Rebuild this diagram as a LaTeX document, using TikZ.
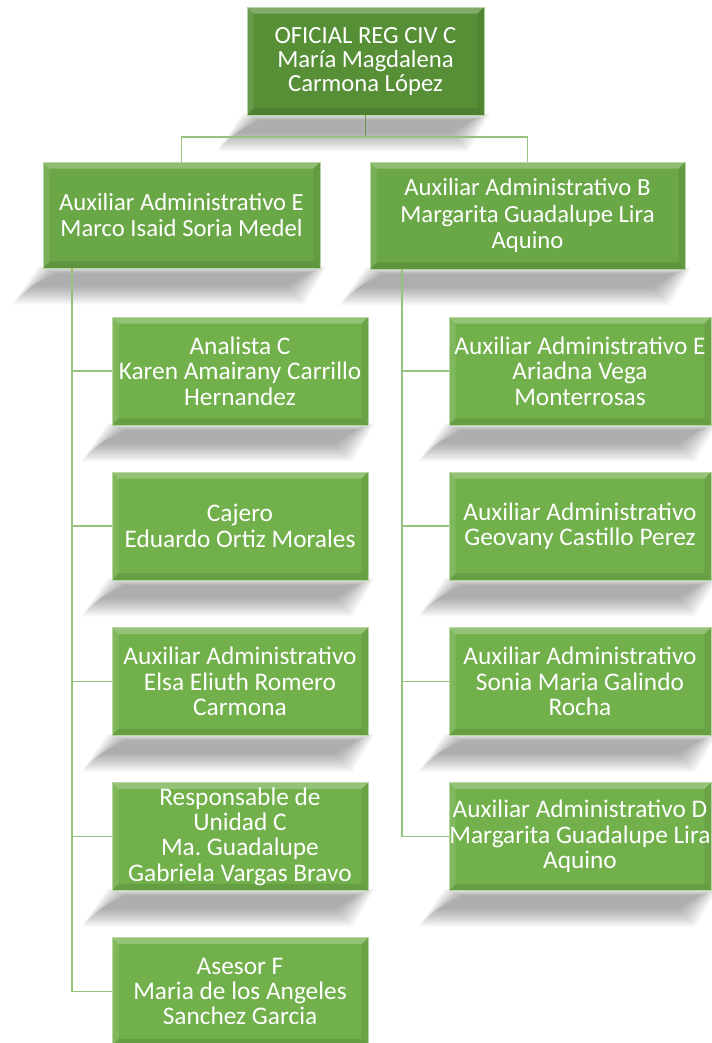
\documentclass[tikz,border=0pt]{standalone}
\usepackage{fontspec}
\setmainfont{Carlito}
\usepackage{tikz}
\usetikzlibrary{positioning,backgrounds}
\frenchspacing

\definecolor{verdeA}{RGB}{86,143,54}
\definecolor{verdeB}{RGB}{106,167,70}
\definecolor{verdeC}{RGB}{113,176,75}
\definecolor{linea}{RGB}{150,194,128}
\definecolor{lineaA}{RGB}{104,150,80}

\begin{document}
\begin{tikzpicture}[x=0.75pt,y=-0.75pt,
  caja/.style={draw=verdeC!50!white,line width=0.5pt,fill=verdeC,text=white,
    inner sep=0pt,align=center,minimum height=81pt,
    path picture={
      \path (path picture bounding box.north west) coordinate (nw)
            (path picture bounding box.north east) coordinate (ne)
            (path picture bounding box.south west) coordinate (sw)
            (path picture bounding box.south east) coordinate (se);
      \fill[white,opacity=.25] (nw) -- (ne) -- ([xshift=-5pt,yshift=-5pt]ne) -- ([xshift=5pt,yshift=-5pt]nw) -- cycle;
      \fill[white,opacity=.1] (nw) -- ([xshift=5pt,yshift=-5pt]nw) -- ([xshift=5pt,yshift=5pt]sw) -- (sw) -- cycle;
      \fill[black,opacity=.07] (ne) -- (se) -- ([xshift=-5pt,yshift=5pt]se) -- ([xshift=-5pt,yshift=-5pt]ne) -- cycle;
      \fill[black,opacity=.1] (sw) -- (se) -- ([xshift=-5pt,yshift=5pt]se) -- ([xshift=5pt,yshift=5pt]sw) -- cycle;
    }},
  jefe/.style={caja,fill=verdeA,minimum width=177.75pt,font=\fontsize{18.5}{18}\selectfont},
  aux/.style={caja,fill=verdeB,font=\fontsize{18.5}{20}\selectfont},
  hijo/.style={caja,minimum width=192pt,font=\fontsize{19}{19}\selectfont},
  hijoR/.style={hijo,minimum width=196.5pt},
  con/.style={draw=linea,line width=1pt},
  sombra/.style={fill=black,opacity=.03}]
\useasboundingbox (0,0) rectangle (711,1043);

\node[jefe] (ofi) at (365.5,61) {OFICIAL REG CIV C\\María Magdalena\\Carmona López};
\node[aux,minimum width=207.75pt,minimum height=79.5pt] (auxE) at (181.5,215) {Auxiliar Administrativo E\\Marco Isaid Soria Medel};
\node[aux,minimum width=236.25pt,minimum height=80.25pt] (auxB) at (527.5,215.5) {Auxiliar Administrativo B\\Margarita Guadalupe Lira\\Aquino};

\node[hijo] (l1) at (240,371) {Analista C\\Karen Amairany Carrillo\\Hernandez};
\node[hijo] (l2) at (240,526) {Cajero\\Eduardo Ortiz Morales};
\node[hijo] (l3) at (240,681.5) {Auxiliar Administrativo\\Elsa Eliuth Romero\\Carmona};
\node[hijo] (l4) at (240,836.5) {Responsable de\\Unidad C\\Ma. Guadalupe\\Gabriela Vargas Bravo};
\node[hijo] (l5) at (240,991.5) {Asesor F\\Maria de los Angeles\\Sanchez Garcia};

\node[hijoR] (r1) at (580,371) {Auxiliar Administrativo E\\Ariadna Vega\\Monterrosas};
\node[hijoR] (r2) at (580,526) {Auxiliar Administrativo\\Geovany Castillo Perez};
\node[hijoR] (r3) at (580,681.5) {Auxiliar Administrativo\\Sonia Maria Galindo\\Rocha};
\node[hijoR] (r4) at (580,836.5) {Auxiliar Administrativo D\\Margarita Guadalupe Lira\\Aquino};

% sombras
\begin{scope}[on background layer]
\foreach \n in {ofi,auxE,auxB,l1,l2,l3,l4,l5,r1,r2,r3,r4}
  \foreach \k in {0,...,11}
    \fill[sombra] ([shift={(-4+\k*1.6,-2+\k*0.6)}]\n.south west) -- ([shift={(6-\k*1.6,-2+\k*0.6)}]\n.south east)
      -- ([shift={(-16-\k*1.6,36-\k*1.6)}]\n.south east) -- ([shift={(-30+\k*1.6,36-\k*1.6)}]\n.south west) -- cycle;
\end{scope}

\coordinate (j) at (365.5,137);
\coordinate (tl) at (72,268);
\coordinate (tr) at (402,269);

\draw[con,draw=lineaA] (ofi.south) -- (j);
\draw[con] (j) -| (auxE.north);
\draw[con] (j) -| (auxB.north);

\draw[con] (tl) |- (l5.west);
\foreach \n in {l1,l2,l3,l4}
  \draw[con] (\n.west) -- (\n.west -| tl);
\draw[con] (tr) |- (r4.west);
\foreach \n in {r1,r2,r3}
  \draw[con] (\n.west) -- (\n.west -| tr);

\end{tikzpicture}
\end{document}
